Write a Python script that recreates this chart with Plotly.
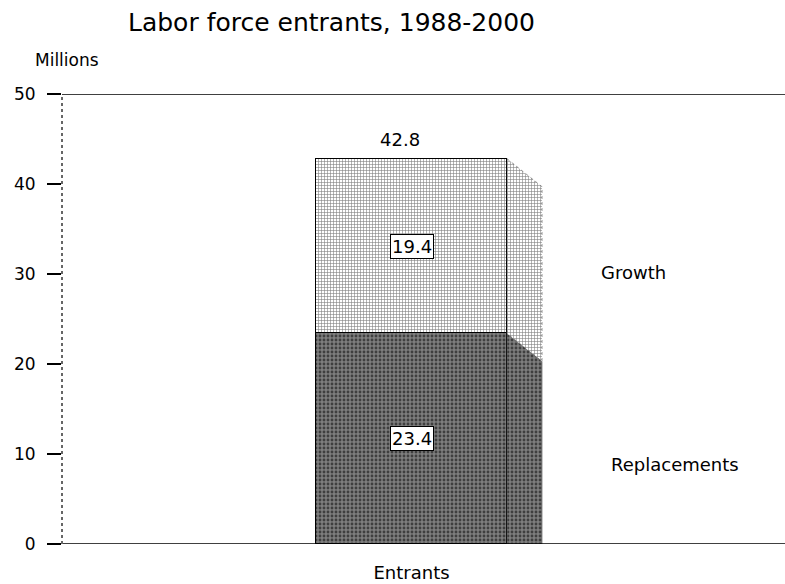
import plotly.graph_objects as go

# ---- data ----
categories = ["Entrants"]
series_names = ["Replacements", "Growth"]
replacements = [23.4]
growth = [19.4]
totals = [round(r + g, 1) for r, g in zip(replacements, growth)]
y_ticks = [0, 10, 20, 30, 40, 50]
title_text = "Labor force entrants, 1988-2000"
y_unit = "Millions"

FONT = "DejaVu Sans"
W, H = 785, 584
ML, MR, MT, MB = 62, 0, 94, 40

BAR_W = 1.0
DX, DY = 0.183, 3.1  # 3-D depth offsets (axis units)

dark_pat = dict(shape=".", fgcolor="black", bgcolor="#7e7e7e", size=4, solidity=0.4)
light_pat = dict(shape="+", fgcolor="black", bgcolor="white", size=3, solidity=0.35)

fig = go.Figure()

xpos = list(range(len(categories)))

# side faces (3-D look) built from the data
for i, x0 in enumerate(xpos):
    xr = x0 + BAR_W / 2
    r, t = replacements[i], totals[i]
    fig.add_trace(go.Scatter(
        x=[xr, xr + DX, xr + DX, xr, xr],
        y=[r, r - DY, 0, 0, r],
        mode="lines", fill="toself", fillcolor="#7e7e7e",
        fillpattern=dark_pat,
        line=dict(color="#555555", width=0.6), hoverinfo="skip", showlegend=False))
    fig.add_trace(go.Scatter(
        x=[xr, xr + DX, xr + DX, xr, xr],
        y=[t, t - DY, r - DY, r, t],
        mode="lines", fill="toself", fillcolor="white",
        fillpattern=light_pat,
        line=dict(color="#555555", width=0.6, dash="dot"), hoverinfo="skip", showlegend=False))

fig.add_trace(go.Bar(
    x=xpos, y=replacements, width=BAR_W, name=series_names[0],
    marker=dict(color="#7e7e7e", pattern=dark_pat, line=dict(color="black", width=1.5)),
    showlegend=False))
fig.add_trace(go.Bar(
    x=xpos, y=growth, width=BAR_W, name=series_names[1],
    marker=dict(color="white", pattern=light_pat, line=dict(color="black", width=1.5)),
    showlegend=False))

annotations = []
for i, x0 in enumerate(xpos):
    r, g, t = replacements[i], growth[i], totals[i]
    annotations.append(dict(x=x0, y=r / 2, text=f"{r:.1f}", showarrow=False,
                            font=dict(family=FONT, size=18, color="black"),
                            bgcolor="white", bordercolor="black", borderwidth=1, borderpad=1))
    annotations.append(dict(x=x0, y=r + g / 2, text=f"{g:.1f}", showarrow=False,
                            font=dict(family=FONT, size=18, color="black"),
                            bgcolor="white", bordercolor="black", borderwidth=1, borderpad=1))
    annotations.append(dict(x=x0, y=t, text=f"{t:.1f}", showarrow=False, yshift=19, xshift=-12,
                            font=dict(family=FONT, size=18, color="black")))

annotations += [
    dict(xref="paper", yref="paper", x=0.791, y=0.604, text=series_names[1], showarrow=False,
         xanchor="center", yanchor="middle", font=dict(family=FONT, size=18, color="black")),
    dict(xref="paper", yref="paper", x=0.848, y=0.176, text=series_names[0], showarrow=False,
         xanchor="center", yanchor="middle", font=dict(family=FONT, size=18, color="black")),
    dict(xref="paper", yref="paper", x=0.007, y=1.076, text=y_unit, showarrow=False,
         xanchor="center", yanchor="middle", font=dict(family=FONT, size=17, color="black")),
]

shapes = [
    dict(type="line", xref="paper", yref="y", x0=0, x1=1, y0=y_ticks[-1], y1=y_ticks[-1],
         line=dict(color="black", width=1.5)),
    dict(type="line", xref="paper", yref="y", x0=0, x1=1, y0=0, y1=0,
         line=dict(color="black", width=1.5)),
    dict(type="line", xref="paper", yref="y", x0=0, x1=0, y0=0, y1=y_ticks[-1],
         line=dict(color="#666666", width=2, dash="dot")),
]

fig.update_layout(
    width=W, height=H,
    margin=dict(l=ML, r=MR, t=MT, b=MB),
    paper_bgcolor="white", plot_bgcolor="white",
    barmode="stack", bargap=0,
    title=dict(text=title_text, x=331.5 / W, xref="container", xanchor="center",
               y=1 - 22 / H, yref="container", yanchor="middle",
               font=dict(family=FONT, size=25, color="black")),
    xaxis=dict(range=[-1.83, 1.955], tickvals=xpos, ticktext=categories, ticks="",
               showgrid=False, zeroline=False, showline=False, ticklabelstandoff=16,
               tickfont=dict(family=FONT, size=18, color="black")),
    yaxis=dict(range=[0, 50], tickvals=y_ticks, ticks="outside", ticklen=14, tickwidth=1.5,
               tickcolor="black", showgrid=False, zeroline=False, showline=False,
               ticklabelstandoff=8, tickfont=dict(family=FONT, size=17, color="black")),
    annotations=annotations, shapes=shapes,
)

fig.write_html("out.html", config={"displayModeBar": False},
               post_script="document.body.style.margin='0';document.body.style.overflow='hidden';")
